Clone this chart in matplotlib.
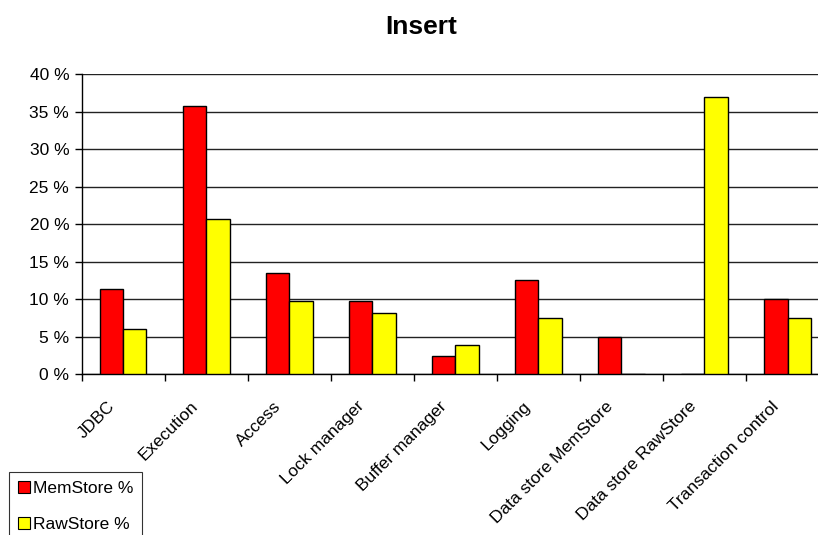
import numpy as np
import matplotlib
matplotlib.use("Agg")
import matplotlib.pyplot as plt
import matplotlib.transforms as mtransforms
from matplotlib.patches import Rectangle
from matplotlib.ticker import FuncFormatter, MultipleLocator

plt.rcParams['font.family'] = ['Liberation Sans', 'DejaVu Sans']

categories = ["JDBC", "Execution", "Access", "Lock manager", "Buffer manager",
              "Logging", "Data store MemStore", "Data store RawStore",
              "Transaction control"]
memstore = [11.3, 35.8, 13.5, 9.8, 2.4, 12.6, 5.0, 0.0, 10.0]
rawstore = [6.0, 20.7, 9.8, 8.1, 3.9, 7.5, 0.0, 36.9, 7.5]

RED = "#ff0000"
YELLOW = "#ffff00"

fig = plt.figure(figsize=(8.18, 5.35), dpi=100)
ax = fig.add_axes([0.0999, 0.3004, 0.9136, 0.5613])

x = np.arange(len(categories))
w = 0.28
ax.bar(x - w / 2, memstore, w, color=RED, edgecolor="black", linewidth=1.0,
       zorder=3)
ax.bar(x + w / 2, rawstore, w, color=YELLOW, edgecolor="black", linewidth=1.0,
       zorder=3)

ax.set_xlim(-0.5, len(categories) - 0.5)
ax.set_ylim(0, 40)
ax.yaxis.set_major_locator(MultipleLocator(5))
ax.yaxis.set_major_formatter(FuncFormatter(lambda v, p: "%d %%" % v))
ax.yaxis.grid(True, color="#222222", linewidth=1.0, zorder=0)

# category labels sit on the centres, ticks mark the boundaries
ax.set_xticks(x)
ax.set_xticklabels(categories, rotation=45, ha="right",
                   rotation_mode="anchor", fontsize=12.5)
ax.tick_params(axis="x", which="major", length=0, pad=6)
ax.set_xticks(np.arange(len(categories) + 1) - 0.5, minor=True)
ax.tick_params(axis="x", which="minor", length=5, width=1, color="black",
               direction="out")
ax.tick_params(axis="y", length=5, width=1, color="black", labelsize=12.5,
               pad=4)

# push the slanted labels down-left along their own direction
shift = mtransforms.ScaledTranslation(-0.16, -0.16, fig.dpi_scale_trans)
for lbl in ax.get_xticklabels():
    lbl.set_transform(lbl.get_transform() + shift)

for s in ("top", "right"):
    ax.spines[s].set_visible(False)
for s in ("left", "bottom"):
    ax.spines[s].set_color("black")
    ax.spines[s].set_linewidth(1.0)

fig.text(421 / 818, 1 - 27 / 535, "Insert", ha="center", va="center",
         fontsize=19, fontweight="bold")

handles = [Rectangle((0, 0), 1, 1, facecolor=RED, edgecolor="black", lw=0.8),
           Rectangle((0, 0), 1, 1, facecolor=YELLOW, edgecolor="black", lw=0.8)]
leg = fig.legend(handles, ["MemStore %", "RawStore %"], loc="upper left",
                 bbox_to_anchor=(9 / 818, 1 - 472 / 535), fontsize=12.5,
                 frameon=True, fancybox=False, handlelength=0.7,
                 handleheight=0.7, handletextpad=0.2, labelspacing=1.2,
                 borderpad=0.5, borderaxespad=0)
leg.get_frame().set_edgecolor("black")
leg.get_frame().set_linewidth(0.8)

fig.savefig("out.png", dpi=100)
